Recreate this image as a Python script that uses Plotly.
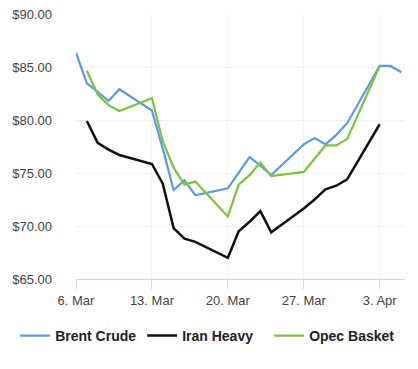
import plotly.graph_objects as go

brent_dates = ["2023-03-06", "2023-03-07", "2023-03-08", "2023-03-09", "2023-03-10",
               "2023-03-13", "2023-03-14", "2023-03-15", "2023-03-16", "2023-03-17",
               "2023-03-20", "2023-03-21", "2023-03-22", "2023-03-23", "2023-03-24",
               "2023-03-27", "2023-03-28", "2023-03-29", "2023-03-30", "2023-03-31",
               "2023-04-03", "2023-04-04", "2023-04-05"]
brent = [86.35, 83.45, 82.65, 81.8, 82.9,
         80.9, 77.3, 73.4, 74.3, 72.9,
         73.55, 75.0, 76.5, 75.7, 74.8,
         77.7, 78.3, 77.7, 78.6, 79.7,
         85.1, 85.1, 84.5]

iran_dates = ["2023-03-07", "2023-03-08", "2023-03-09", "2023-03-10",
              "2023-03-13", "2023-03-14", "2023-03-15", "2023-03-16", "2023-03-17",
              "2023-03-20", "2023-03-21", "2023-03-22", "2023-03-23", "2023-03-24",
              "2023-03-27", "2023-03-28", "2023-03-29", "2023-03-30", "2023-03-31",
              "2023-04-03"]
iran = [79.9, 77.85, 77.2, 76.7,
        75.85, 74.0, 69.8, 68.8, 68.5,
        67.0, 69.5, 70.4, 71.4, 69.4,
        71.65, 72.5, 73.45, 73.8, 74.4,
        79.6]

opec_dates = ["2023-03-07", "2023-03-08", "2023-03-09", "2023-03-10",
              "2023-03-13", "2023-03-14", "2023-03-15", "2023-03-16", "2023-03-17",
              "2023-03-20", "2023-03-21", "2023-03-22", "2023-03-23", "2023-03-24",
              "2023-03-27", "2023-03-28", "2023-03-29", "2023-03-30", "2023-03-31",
              "2023-04-03"]
opec = [84.65, 82.4, 81.4, 80.85,
        82.05, 78.0, 75.5, 73.9, 74.2,
        70.9, 73.9, 74.8, 76.0, 74.7,
        75.1, 76.4, 77.6, 77.6, 78.2,
        85.1]

x_tick_vals = ["2023-03-06", "2023-03-13", "2023-03-20", "2023-03-27", "2023-04-03"]
x_tick_text = ["6. Mar", "13. Mar", "20. Mar", "27. Mar", "3. Apr"]
y_tick_vals = [65, 70, 75, 80, 85, 90]
y_tick_text = ["$65.00", "$70.00", "$75.00", "$80.00", "$85.00", "$90.00"]

fig = go.Figure()
fig.add_trace(go.Scatter(x=brent_dates, y=brent, name="Brent Crude", mode="lines",
                         line=dict(color="#5b9be0", width=2.2)))
fig.add_trace(go.Scatter(x=iran_dates, y=iran, name="Iran Heavy", mode="lines",
                         line=dict(color="#111111", width=2.5)))
fig.add_trace(go.Scatter(x=opec_dates, y=opec, name="Opec Basket", mode="lines",
                         line=dict(color="#7cc242", width=2.2)))

fig.update_layout(
    width=410, height=361,
    margin=dict(l=68, r=13, t=6, b=90, autoexpand=False),
    paper_bgcolor="white", plot_bgcolor="white",
    font=dict(family="Liberation Sans, Arial, sans-serif", size=13, color="#444444"),
    showlegend=True,
    legend=dict(orientation="h", x=-0.185, xanchor="left", y=-0.215, yanchor="middle",
                font=dict(size=14, color="#222222", family="Liberation Sans, Arial, sans-serif",
                          weight="bold"),
                itemwidth=30, entrywidth=82, tracegroupgap=0),
    xaxis=dict(type="date", range=["2023-03-06", "2023-04-05 08:00"],
               tickvals=x_tick_vals, ticktext=x_tick_text,
               ticks="outside", ticklen=9, tickcolor="#ccd6eb", tickwidth=1,
               showline=True, linecolor="#ccd6eb", linewidth=1,
               showgrid=True, gridcolor="#f3f3f3", zeroline=False),
    yaxis=dict(range=[65, 90], tickvals=y_tick_vals, ticktext=y_tick_text,
               showgrid=True, gridcolor="#f0f0f0", zeroline=False, showline=False,
               ticks="", ticklabelstandoff=23, ticklabeloverflow="allow"),
)

fig.write_html("out.html")
